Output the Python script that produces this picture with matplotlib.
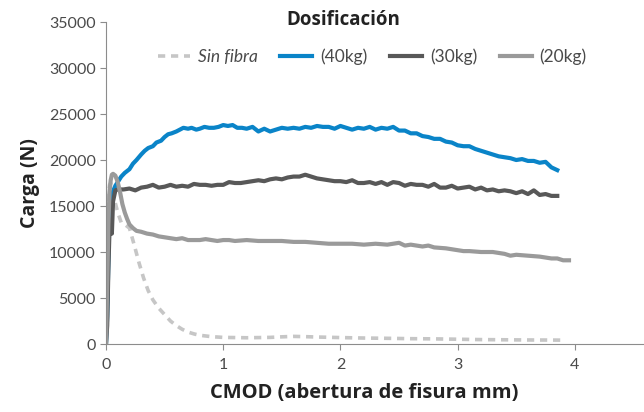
import matplotlib.pyplot as plt

plt.rcParams.update({"font.family": "Lato", "font.size": 11})

# 40kg (blue)
x40 = [0, 0.01, 0.02, 0.03, 0.04, 0.06, 0.08, 0.1, 0.13, 0.16, 0.2, 0.23, 0.26, 0.3, 0.33,
       0.36, 0.4, 0.43, 0.47, 0.5, 0.53, 0.56, 0.6, 0.63, 0.66, 0.7, 0.73, 0.77, 0.8, 0.84,
       0.88, 0.92, 0.96, 1.0, 1.04, 1.08, 1.12, 1.16, 1.2, 1.25, 1.3, 1.35, 1.4, 1.45, 1.5,
       1.55, 1.6, 1.65, 1.7, 1.75, 1.8, 1.85, 1.9, 1.95, 2.0, 2.05, 2.1, 2.15, 2.2, 2.25,
       2.3, 2.35, 2.4, 2.45, 2.5, 2.55, 2.6, 2.65, 2.7, 2.75, 2.8, 2.85, 2.9, 2.95, 3.0,
       3.05, 3.1, 3.15, 3.2, 3.25, 3.3, 3.35, 3.4, 3.45, 3.5, 3.55, 3.6, 3.65, 3.7, 3.75,
       3.8, 3.85]
y40 = [0, 3000, 9000, 14000, 15800, 16600, 17200, 17600, 18200, 18600, 19000, 19600, 20000, 20600, 21000,
       21300, 21500, 21900, 22100, 22500, 22800, 22900, 23100, 23300, 23500, 23400, 23500, 23300, 23400, 23600,
       23500, 23500, 23600, 23800, 23700, 23800, 23500, 23500, 23400, 23600, 23100, 23400, 23100, 23300, 23500,
       23400, 23500, 23400, 23600, 23500, 23700, 23600, 23600, 23400, 23700, 23500, 23300, 23500, 23400, 23600,
       23300, 23500, 23400, 23600, 23200, 23200, 22900, 22900, 22600, 22500, 22300, 22300, 22000, 21900, 21600,
       21500, 21500, 21200, 21000, 20800, 20600, 20400, 20300, 20200, 20000, 20100, 19900, 19900, 19700, 19800,
       19200, 18900]

# 30kg (dark gray)
x30 = [0, 0.01, 0.02, 0.03, 0.04, 0.05, 0.06, 0.08, 0.1, 0.15, 0.2, 0.25, 0.3, 0.35, 0.4,
       0.45, 0.5, 0.55, 0.6, 0.65, 0.7, 0.75, 0.8, 0.85, 0.9, 0.95, 1.0, 1.05, 1.1, 1.15,
       1.2, 1.25, 1.3, 1.35, 1.4, 1.45, 1.5, 1.55, 1.6, 1.65, 1.7, 1.75, 1.8, 1.85, 1.9,
       1.95, 2.0, 2.05, 2.1, 2.15, 2.2, 2.25, 2.3, 2.35, 2.4, 2.45, 2.5, 2.55, 2.6, 2.65,
       2.7, 2.75, 2.8, 2.85, 2.9, 2.95, 3.0, 3.05, 3.1, 3.15, 3.2, 3.25, 3.3, 3.35, 3.4,
       3.45, 3.5, 3.55, 3.6, 3.65, 3.7, 3.75, 3.8, 3.85]
y30 = [0, 2000, 8000, 12500, 13500, 12000, 15500, 16700, 16800, 16800, 16900, 16700, 17000, 17100, 17300,
       17000, 17100, 17300, 17100, 17200, 17100, 17400, 17300, 17300, 17200, 17300, 17300, 17600, 17500, 17500,
       17600, 17700, 17800, 17700, 17900, 18000, 17900, 18100, 18200, 18200, 18400, 18200, 18000, 17900, 17800,
       17700, 17700, 17600, 17800, 17500, 17500, 17600, 17400, 17600, 17300, 17600, 17500, 17200, 17400, 17300,
       17300, 17100, 17400, 17000, 17000, 17200, 16900, 17000, 17100, 16800, 17000, 16700, 16800, 16600, 16700,
       16600, 16400, 16600, 16300, 16700, 16200, 16300, 16100, 16100]

# 20kg (mid gray)
x20 = [0, 0.01, 0.02, 0.03, 0.04, 0.05, 0.06, 0.08, 0.1, 0.12, 0.14, 0.16, 0.18, 0.2, 0.23,
       0.26, 0.3, 0.35, 0.4, 0.45, 0.5, 0.55, 0.6, 0.65, 0.7, 0.75, 0.8, 0.85, 0.9, 0.95,
       1.0, 1.05, 1.1, 1.2, 1.3, 1.4, 1.5, 1.6, 1.7, 1.8, 1.9, 2.0, 2.1, 2.2, 2.3, 2.4,
       2.45, 2.5, 2.55, 2.6, 2.7, 2.75, 2.8, 2.9, 3.0, 3.05, 3.1, 3.2, 3.3, 3.4, 3.45,
       3.5, 3.6, 3.7, 3.8, 3.85, 3.9, 3.95]
y20 = [0, 6000, 13000, 16500, 17800, 18400, 18500, 18300, 17600, 16500, 15200, 14300, 13600, 13000, 12600,
       12300, 12200, 12000, 11900, 11700, 11600, 11500, 11400, 11500, 11300, 11300, 11300, 11400, 11300, 11200,
       11300, 11300, 11200, 11300, 11200, 11200, 11200, 11100, 11100, 11000, 10900, 10900, 10900, 10800, 10900, 10800,
       10900, 11000, 10700, 10800, 10600, 10700, 10500, 10400, 10200, 10100, 10100, 10000, 10000, 9800, 9600,
       9700, 9600, 9500, 9300, 9300, 9100, 9100]

# Sin fibra (dashed)
x0 = [0, 0.01, 0.02, 0.03, 0.04, 0.06, 0.08, 0.1, 0.13, 0.16, 0.2, 0.24, 0.28, 0.32, 0.36,
      0.4, 0.45, 0.5, 0.55, 0.6, 0.65, 0.7, 0.75, 0.8, 0.9, 1.0, 1.1, 1.2, 1.3, 1.4,
      1.5, 1.6, 1.7, 1.8, 2.0, 2.2, 2.4, 2.6, 2.8, 3.0, 3.2, 3.4, 3.6, 3.8, 3.92]
y0 = [0, 9000, 16000, 17300, 17500, 16600, 15300, 14300, 13200, 13000, 12600, 10800, 8900, 7200, 5800,
      4800, 3900, 3200, 2500, 2000, 1600, 1300, 1100, 950, 800, 720, 700, 680, 700, 720,
      780, 830, 800, 760, 700, 650, 620, 580, 560, 520, 480, 460, 440, 430, 420]

fig = plt.figure(figsize=(6.44, 4.12), dpi=100)
ax = fig.add_axes([0.1646, 0.165, 0.8354, 0.7816])

ax.plot(x0, y0, color="#c6c6c6", lw=2.6, ls=(0, (2, 1.6)), label="Sin fibra")
ax.plot(x40, y40, color="#0a84c8", lw=3, label="(40kg)")
ax.plot(x30, y30, color="#585858", lw=3, label="(30kg)")
ax.plot(x20, y20, color="#9a9a9a", lw=3, label="(20kg)")

ax.set_xlim(0, 4.59)
ax.set_ylim(0, 35000)
ax.set_xticks([0, 1, 2, 3, 4])
ax.set_yticks(range(0, 35001, 5000))
for s in ["top", "right"]:
    ax.spines[s].set_visible(False)
for s in ["left", "bottom"]:
    ax.spines[s].set_color("#8c8c8c")
ax.tick_params(colors="#8c8c8c", labelcolor="#4a4a4a", length=4, labelsize=11.5)
ax.tick_params(axis="x", pad=6)

bold = dict(family="Open Sans", fontweight="bold", color="#222222")
ax.set_ylabel("Carga (N)", fontsize=14, labelpad=6, **bold)
fig.text(0.565, 0.022, "CMOD (abertura de fisura mm)", fontsize=14.5,
         ha="center", va="bottom", **bold)
fig.text(0.533, 0.952, "Dosificación", fontsize=13.5, ha="center", va="center", **bold)

leg = ax.legend(ncol=4, frameon=False, loc="center", bbox_to_anchor=(0.495, 0.893),
                handlelength=1.85, columnspacing=1.3, handletextpad=0.45, fontsize=12.5,
                borderpad=0, borderaxespad=0)
for t in leg.get_texts():
    t.set_color("#4a4a4a")
leg.get_texts()[0].set_fontstyle("italic")

fig.savefig("out.png", dpi=100)
